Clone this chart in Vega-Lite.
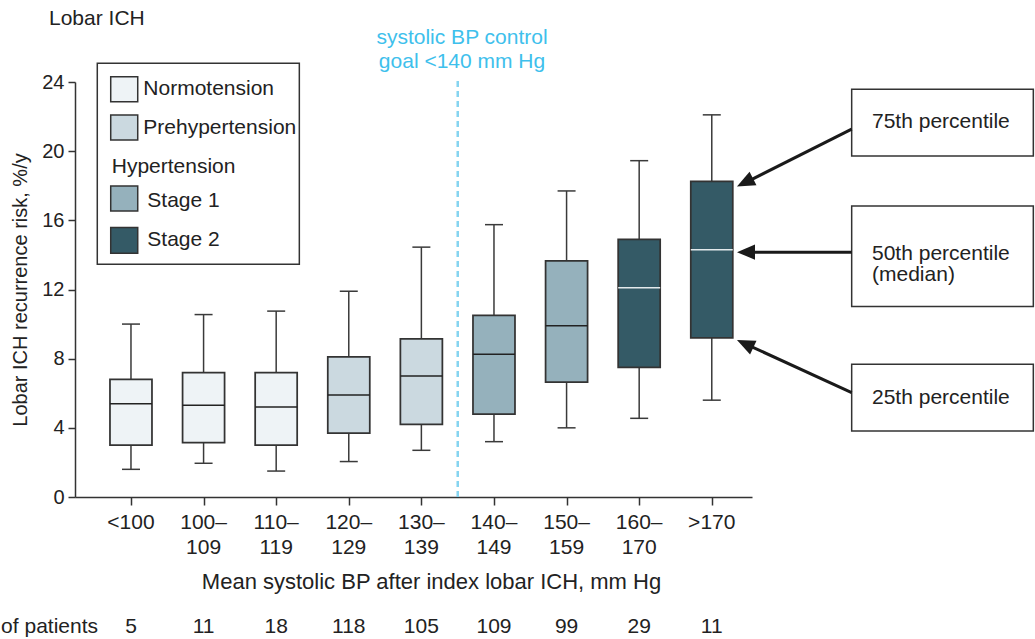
{
  "$schema": "https://vega.github.io/schema/vega-lite/v6.json",
  "width": 677,
  "height": 415,
  "autosize": {"type": "none"},
  "padding": {"left": 75, "top": 82, "right": 283, "bottom": 142},
  "background": "white",
  "config": {
    "font": "Liberation Sans",
    "view": {"stroke": null},
    "axis": {
      "grid": false,
      "domainColor": "#333333",
      "domainWidth": 1.5,
      "tickColor": "#333333",
      "tickWidth": 1.5,
      "labelFont": "Liberation Sans",
      "labelFontSize": 20,
      "labelColor": "#222222",
      "titleFont": "Liberation Sans",
      "titleFontSize": 20,
      "titleFontWeight": "normal",
      "titleColor": "#222222"
    },
    "text": {"font": "Liberation Sans", "fontSize": 21, "color": "#222222"}
  },
  "data": {
    "values": [
      {"idx": 0, "bp": "<100", "group": "Normotension", "n": 5, "lo": 1.6, "q1": 3.0, "med": 5.4, "q3": 6.8, "hi": 10.0},
      {"idx": 1, "bp": "100–\n109", "group": "Normotension", "n": 11, "lo": 1.95, "q1": 3.15, "med": 5.3, "q3": 7.2, "hi": 10.55},
      {"idx": 2, "bp": "110–\n119", "group": "Normotension", "n": 18, "lo": 1.5, "q1": 3.0, "med": 5.2, "q3": 7.2, "hi": 10.75},
      {"idx": 3, "bp": "120–\n129", "group": "Prehypertension", "n": 118, "lo": 2.05, "q1": 3.7, "med": 5.9, "q3": 8.1, "hi": 11.9},
      {"idx": 4, "bp": "130–\n139", "group": "Prehypertension", "n": 105, "lo": 2.7, "q1": 4.2, "med": 7.0, "q3": 9.15, "hi": 14.45},
      {"idx": 5, "bp": "140–\n149", "group": "Stage 1", "n": 109, "lo": 3.2, "q1": 4.8, "med": 8.25, "q3": 10.5, "hi": 15.75},
      {"idx": 6, "bp": "150–\n159", "group": "Stage 1", "n": 99, "lo": 4.0, "q1": 6.65, "med": 9.9, "q3": 13.65, "hi": 17.7},
      {"idx": 7, "bp": "160–\n170", "group": "Stage 2", "n": 29, "lo": 4.55, "q1": 7.5, "med": 12.1, "q3": 14.9, "hi": 19.45},
      {"idx": 8, "bp": ">170", "group": "Stage 2", "n": 11, "lo": 5.6, "q1": 9.2, "med": 14.3, "q3": 18.25, "hi": 22.1}
    ]
  },
  "encoding": {
    "x": {
      "field": "idx",
      "type": "quantitative",
      "scale": {"domain": [-0.771, 8.554], "nice": false, "zero": false, "padding": 0},
      "axis": {
        "values": [0, 1, 2, 3, 4, 5, 6, 7, 8],
        "labels": false,
        "tickSize": 8,
        "title": "Mean systolic BP after index lobar ICH, mm Hg",
        "titleFontSize": 22,
        "titleX": 356,
        "titlePadding": 66
      }
    }
  },
  "layer": [
    {
      "mark": {"type": "rule", "color": "#86d4f0", "strokeWidth": 1.5, "strokeDash": [6, 4]},
      "encoding": {
        "x": {"datum": 4.5, "type": "quantitative"},
        "y": {"datum": 0, "type": "quantitative"},
        "y2": {"datum": 24.2}
      }
    },
    {
      "mark": {"type": "rule", "color": "#3a3a3a", "strokeWidth": 1.5},
      "encoding": {
        "y": {
          "field": "lo",
          "type": "quantitative",
          "scale": {"domain": [0, 24], "nice": false, "zero": true, "padding": 0},
          "axis": {
            "values": [0, 4, 8, 12, 16, 20, 24],
            "tickSize": 7,
            "labelPadding": 4,
            "title": "Lobar ICH recurrence risk, %/y",
            "titlePadding": 11
          }
        },
        "y2": {"field": "hi"}
      }
    },
    {
      "mark": {"type": "tick", "orient": "horizontal", "size": 18, "thickness": 1.5, "color": "#3a3a3a", "opacity": 1},
      "encoding": {"y": {"field": "lo", "type": "quantitative"}}
    },
    {
      "mark": {"type": "tick", "orient": "horizontal", "size": 18, "thickness": 1.5, "color": "#3a3a3a", "opacity": 1},
      "encoding": {"y": {"field": "hi", "type": "quantitative"}}
    },
    {
      "mark": {"type": "bar", "orient": "vertical", "width": 42, "stroke": "#333333", "strokeWidth": 1.75, "opacity": 1},
      "encoding": {
        "y": {"field": "q1", "type": "quantitative"},
        "y2": {"field": "q3"},
        "fill": {
          "field": "group",
          "type": "nominal",
          "scale": {
            "domain": ["Normotension", "Prehypertension", "Stage 1", "Stage 2"],
            "range": ["#eef3f6", "#cbd9e0", "#95b1bc", "#345a66"]
          },
          "legend": null
        }
      }
    },
    {
      "mark": {"type": "tick", "orient": "horizontal", "size": 42, "thickness": 1.5, "opacity": 1},
      "encoding": {
        "y": {"field": "med", "type": "quantitative"},
        "color": {
          "condition": {"test": "datum.group === 'Stage 2'", "value": "#e3eaec"},
          "value": "#222222"
        }
      }
    },
    {
      "mark": {"type": "text", "baseline": "top", "align": "center", "lineBreak": "\n", "lineHeight": 25},
      "encoding": {
        "y": {"datum": -0.87, "type": "quantitative"},
        "text": {"field": "bp"}
      }
    },
    {
      "mark": {"type": "text", "baseline": "middle", "align": "center"},
      "encoding": {
        "y": {"datum": -7.52, "type": "quantitative"},
        "text": {"field": "n"}
      }
    },
    {
      "transform": [{"filter": "datum.idx === 0"}],
      "mark": {"type": "text", "baseline": "middle", "align": "right"},
      "encoding": {
        "x": {"datum": -0.454, "type": "quantitative"},
        "y": {"datum": -7.52, "type": "quantitative"},
        "text": {"value": "No. of patients"}
      }
    },
    {
      "transform": [{"filter": "datum.idx === 0"}],
      "mark": {"type": "text", "baseline": "middle", "align": "left"},
      "encoding": {
        "x": {"datum": -1.129, "type": "quantitative"},
        "y": {"datum": 27.66, "type": "quantitative"},
        "text": {"value": "Lobar ICH"}
      }
    },
    {
      "transform": [{"filter": "datum.idx === 0"}],
      "mark": {"type": "text", "baseline": "middle", "align": "center", "lineBreak": "\n", "lineHeight": 24, "color": "#3ec0ec"},
      "encoding": {
        "x": {"datum": 4.56, "type": "quantitative"},
        "y": {"datum": 26.52, "type": "quantitative"},
        "text": {"value": "systolic BP control\ngoal <140 mm Hg"}
      }
    },
    {
      "transform": [{"filter": "datum.idx === 0"}],
      "mark": {"type": "rect", "fill": "white", "stroke": "#333333", "strokeWidth": 1.5},
      "encoding": {
        "x": {"datum": -0.464, "type": "quantitative"},
        "x2": {"datum": 2.319},
        "y": {"datum": 25.08, "type": "quantitative"},
        "y2": {"datum": 13.46}
      }
    },
    {
      "transform": [{"filter": "datum.idx === 0"}],
      "mark": {"type": "rect", "stroke": "#333333", "strokeWidth": 1.5},
      "encoding": {
        "x": {"datum": -0.279, "type": "quantitative"},
        "x2": {"datum": 0.093},
        "y": {"datum": 24.31, "type": "quantitative"},
        "y2": {"datum": 22.86},
        "fill": {"datum": "Normotension", "type": "nominal"}
      }
    },
    {
      "transform": [{"filter": "datum.idx === 0"}],
      "mark": {"type": "rect", "stroke": "#333333", "strokeWidth": 1.5},
      "encoding": {
        "x": {"datum": -0.279, "type": "quantitative"},
        "x2": {"datum": 0.093},
        "y": {"datum": 22.09, "type": "quantitative"},
        "y2": {"datum": 20.65},
        "fill": {"datum": "Prehypertension", "type": "nominal"}
      }
    },
    {
      "transform": [{"filter": "datum.idx === 0"}],
      "mark": {"type": "rect", "stroke": "#333333", "strokeWidth": 1.5},
      "encoding": {
        "x": {"datum": -0.279, "type": "quantitative"},
        "x2": {"datum": 0.093},
        "y": {"datum": 17.99, "type": "quantitative"},
        "y2": {"datum": 16.54},
        "fill": {"datum": "Stage 1", "type": "nominal"}
      }
    },
    {
      "transform": [{"filter": "datum.idx === 0"}],
      "mark": {"type": "rect", "stroke": "#333333", "strokeWidth": 1.5},
      "encoding": {
        "x": {"datum": -0.279, "type": "quantitative"},
        "x2": {"datum": 0.093},
        "y": {"datum": 15.58, "type": "quantitative"},
        "y2": {"datum": 14.09},
        "fill": {"datum": "Stage 2", "type": "nominal"}
      }
    },
    {
      "transform": [{"filter": "datum.idx === 0"}],
      "mark": {"type": "text", "align": "left", "baseline": "middle"},
      "encoding": {
        "x": {"datum": 0.17, "type": "quantitative"},
        "y": {"datum": 23.58, "type": "quantitative"},
        "text": {"value": "Normotension"}
      }
    },
    {
      "transform": [{"filter": "datum.idx === 0"}],
      "mark": {"type": "text", "align": "left", "baseline": "middle"},
      "encoding": {
        "x": {"datum": 0.17, "type": "quantitative"},
        "y": {"datum": 21.32, "type": "quantitative"},
        "text": {"value": "Prehypertension"}
      }
    },
    {
      "transform": [{"filter": "datum.idx === 0"}],
      "mark": {"type": "text", "align": "left", "baseline": "middle"},
      "encoding": {
        "x": {"datum": -0.265, "type": "quantitative"},
        "y": {"datum": 19.1, "type": "quantitative"},
        "text": {"value": "Hypertension"}
      }
    },
    {
      "transform": [{"filter": "datum.idx === 0"}],
      "mark": {"type": "text", "align": "left", "baseline": "middle"},
      "encoding": {
        "x": {"datum": 0.225, "type": "quantitative"},
        "y": {"datum": 17.12, "type": "quantitative"},
        "text": {"value": "Stage 1"}
      }
    },
    {
      "transform": [{"filter": "datum.idx === 0"}],
      "mark": {"type": "text", "align": "left", "baseline": "middle"},
      "encoding": {
        "x": {"datum": 0.225, "type": "quantitative"},
        "y": {"datum": 14.86, "type": "quantitative"},
        "text": {"value": "Stage 2"}
      }
    },
    {
      "transform": [{"filter": "datum.idx === 8"}],
      "mark": {"type": "rect", "fill": "white", "stroke": "#333333", "strokeWidth": 1.5},
      "encoding": {
        "x": {"datum": 9.927, "type": "quantitative"},
        "x2": {"datum": 12.429},
        "y": {"datum": 23.58, "type": "quantitative"},
        "y2": {"datum": 19.72}
      }
    },
    {
      "transform": [{"filter": "datum.idx === 8"}],
      "mark": {"type": "rect", "fill": "white", "stroke": "#333333", "strokeWidth": 1.5},
      "encoding": {
        "x": {"datum": 9.927, "type": "quantitative"},
        "x2": {"datum": 12.429},
        "y": {"datum": 16.83, "type": "quantitative"},
        "y2": {"datum": 11.01}
      }
    },
    {
      "transform": [{"filter": "datum.idx === 8"}],
      "mark": {"type": "rect", "fill": "white", "stroke": "#333333", "strokeWidth": 1.5},
      "encoding": {
        "x": {"datum": 9.927, "type": "quantitative"},
        "x2": {"datum": 12.429},
        "y": {"datum": 7.68, "type": "quantitative"},
        "y2": {"datum": 3.82}
      }
    },
    {
      "transform": [{"filter": "datum.idx === 8"}],
      "mark": {"type": "text", "align": "left", "baseline": "middle"},
      "encoding": {
        "x": {"datum": 10.207, "type": "quantitative"},
        "y": {"datum": 21.69, "type": "quantitative"},
        "text": {"value": "75th percentile"}
      }
    },
    {
      "transform": [{"filter": "datum.idx === 8"}],
      "mark": {"type": "text", "align": "left", "baseline": "middle", "lineBreak": "\n", "lineHeight": 21},
      "encoding": {
        "x": {"datum": 10.207, "type": "quantitative"},
        "y": {"datum": 14.08, "type": "quantitative"},
        "text": {"value": "50th percentile\n(median)"}
      }
    },
    {
      "transform": [{"filter": "datum.idx === 8"}],
      "mark": {"type": "text", "align": "left", "baseline": "middle"},
      "encoding": {
        "x": {"datum": 10.207, "type": "quantitative"},
        "y": {"datum": 5.73, "type": "quantitative"},
        "text": {"value": "25th percentile"}
      }
    },
    {
      "transform": [{"filter": "datum.idx === 8"}],
      "mark": {"type": "rule", "color": "#1a1a1a", "strokeWidth": 3},
      "encoding": {
        "x": {"datum": 9.927, "type": "quantitative"},
        "y": {"datum": 21.27, "type": "quantitative"},
        "x2": {"datum": 8.458},
        "y2": {"datum": 18.17}
      }
    },
    {
      "transform": [{"filter": "datum.idx === 8"}],
      "mark": {"type": "rule", "color": "#1a1a1a", "strokeWidth": 3},
      "encoding": {
        "x": {"datum": 9.927, "type": "quantitative"},
        "y": {"datum": 14.16, "type": "quantitative"},
        "x2": {"datum": 8.471},
        "y2": {"datum": 14.16}
      }
    },
    {
      "transform": [{"filter": "datum.idx === 8"}],
      "mark": {"type": "rule", "color": "#1a1a1a", "strokeWidth": 3},
      "encoding": {
        "x": {"datum": 9.927, "type": "quantitative"},
        "y": {"datum": 6.03, "type": "quantitative"},
        "x2": {"datum": 8.461},
        "y2": {"datum": 8.86}
      }
    },
    {
      "transform": [{"filter": "datum.idx === 8"}],
      "mark": {"type": "point", "shape": "M0,0L-0.85,2L0.85,2Z", "size": 324, "filled": true, "color": "#1a1a1a", "opacity": 1, "angle": 243},
      "encoding": {
        "x": {"datum": 8.347, "type": "quantitative"},
        "y": {"datum": 17.95, "type": "quantitative"}
      }
    },
    {
      "transform": [{"filter": "datum.idx === 8"}],
      "mark": {"type": "point", "shape": "M0,0L-0.85,2L0.85,2Z", "size": 324, "filled": true, "color": "#1a1a1a", "opacity": 1, "angle": 270},
      "encoding": {
        "x": {"datum": 8.347, "type": "quantitative"},
        "y": {"datum": 14.16, "type": "quantitative"}
      }
    },
    {
      "transform": [{"filter": "datum.idx === 8"}],
      "mark": {"type": "point", "shape": "M0,0L-0.85,2L0.85,2Z", "size": 324, "filled": true, "color": "#1a1a1a", "opacity": 1, "angle": 295},
      "encoding": {
        "x": {"datum": 8.347, "type": "quantitative"},
        "y": {"datum": 9.08, "type": "quantitative"}
      }
    }
  ]
}
